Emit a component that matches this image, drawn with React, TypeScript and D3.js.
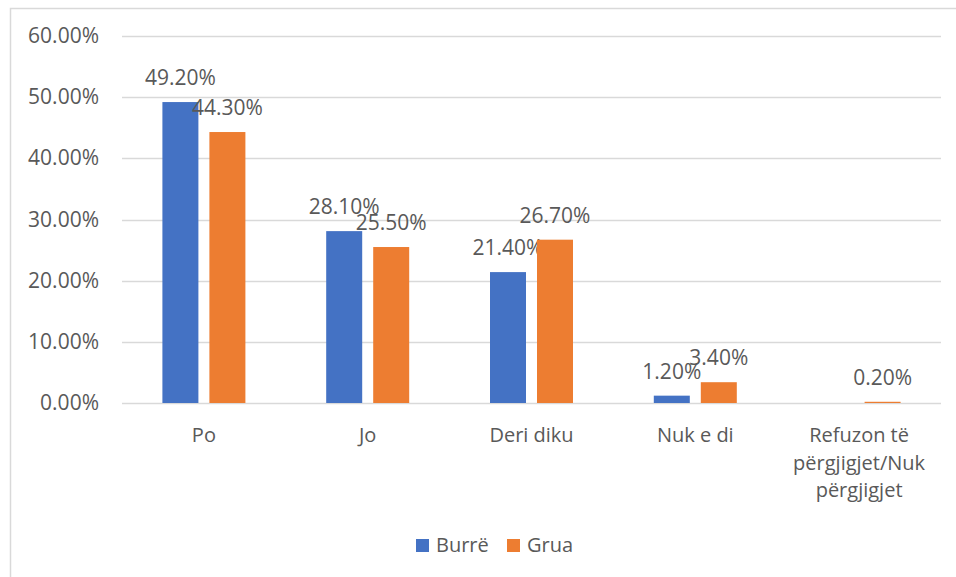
import React from 'react'
import * as d3 from 'd3'

const categories = ['Po', 'Jo', 'Deri diku', 'Nuk e di', 'Refuzon të përgjigjet/Nuk përgjigjet']
const categoryLines = [['Po'], ['Jo'], ['Deri diku'], ['Nuk e di'], ['Refuzon të', 'përgjigjet/Nuk', 'përgjigjet']]
const burre = [0.492, 0.281, 0.214, 0.012, null]
const grua = [0.443, 0.255, 0.267, 0.034, 0.002]
const yTicks = [0, 0.1, 0.2, 0.3, 0.4, 0.5, 0.6]

const series = [
  { name: 'Burrë', color: '#4472C4', values: burre },
  { name: 'Grua', color: '#ED7D31', values: grua },
]

const W = 956
const H = 577
const left = 122
const right = 941
const top = 36
const bottom = 403
const font = '"Open Sans", "Liberation Sans", sans-serif'
const textColor = '#595959'

export default function App() {
  const x = d3.scaleBand<string>().domain(categories).range([left, right])
  const y = d3.scaleLinear().domain([0, 0.6]).range([bottom, top])
  const fmt = d3.format('.2%')
  const barW = 36
  const inner = 11
  const offset = (i: number) => x.bandwidth() / 2 - barW - inner / 2 + i * (barW + inner)

  return (
    <svg width={W} height={H} style={{ position: 'absolute', left: 0, top: 0 }} fontFamily={font}>
      <rect x={0} y={0} width={W} height={H} fill="#fff" />
      <rect x={10.5} y={8.5} width={W + 20} height={H + 20} fill="none" stroke="#d9d9d9" strokeWidth={1.5} />

      {yTicks.map(t => (
        <g key={t}>
          <line x1={left} x2={right} y1={Math.round(y(t)) + 0.5} y2={Math.round(y(t)) + 0.5} stroke="#d9d9d9" strokeWidth={1.5} />
          <text x={99} y={y(t) + 7} textAnchor="end" fontSize={21} fill={textColor}>
            {fmt(t)}
          </text>
        </g>
      ))}

      {series.map((s, i) =>
        categories.map((c, j) => {
          const v = s.values[j]
          if (v == null) return null
          const bx = (x(c) as number) + offset(i)
          return (
            <g key={s.name + c}>
              <rect x={bx} y={y(v)} width={barW} height={bottom - y(v)} fill={s.color} />
              <text x={bx + barW / 2} y={y(v) - 17} textAnchor="middle" fontSize={21} fill={textColor}>
                {fmt(v)}
              </text>
            </g>
          )
        })
      )}

      {categories.map((c, j) => (
        <text key={c} x={(x(c) as number) + x.bandwidth() / 2} y={442} textAnchor="middle" fontSize={20} fill={textColor}>
          {categoryLines[j].map((line, k) => (
            <tspan key={k} x={(x(c) as number) + x.bandwidth() / 2} dy={k === 0 ? 0 : 27.5}>
              {line}
            </tspan>
          ))}
        </text>
      ))}

      <g>
        <rect x={416} y={539} width={13} height={13} fill={series[0].color} />
        <text x={436} y={552} fontSize={20} fill={textColor}>{series[0].name}</text>
        <rect x={507} y={539} width={13} height={13} fill={series[1].color} />
        <text x={527} y={552} fontSize={20} fill={textColor}>{series[1].name}</text>
      </g>
    </svg>
  )
}
